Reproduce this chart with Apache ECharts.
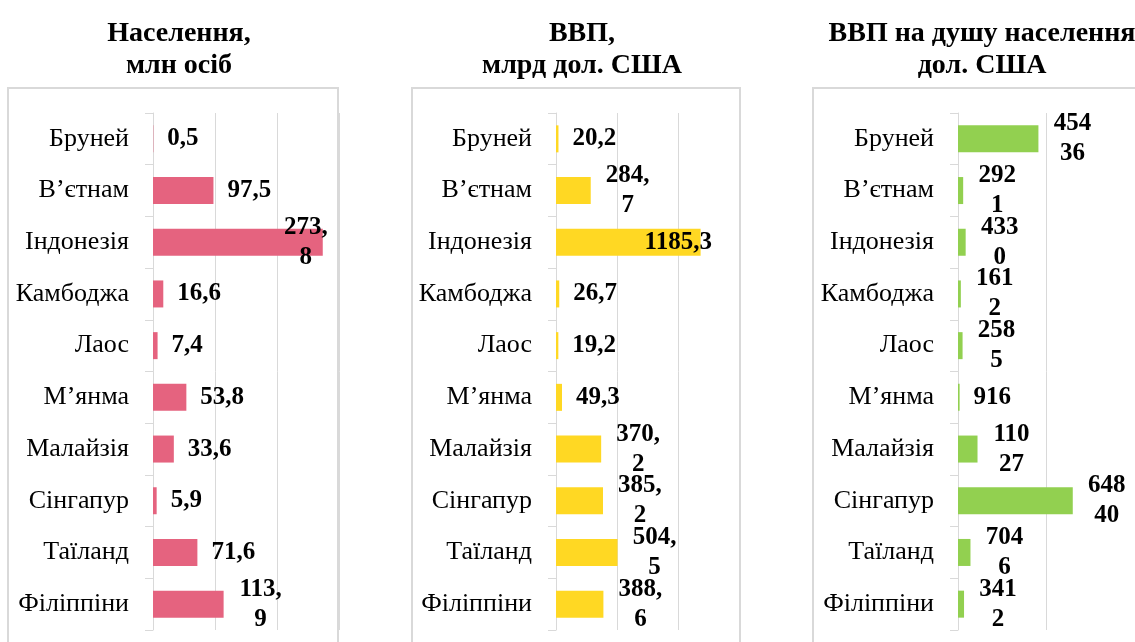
<!DOCTYPE html>
<html>
<head>
<meta charset="utf-8">
<script src="https://cdn.jsdelivr.net/npm/echarts@6/dist/echarts.min.js"></script>
<style>
  html, body { margin: 0; padding: 0; background: #fff; }
  #chart { width: 1135px; height: 642px; }
</style>
</head>
<body>
<div id="chart"></div>
<script>
// країни (зверху вниз)
const countries = ['Бруней', 'В’єтнам', 'Індонезія', 'Камбоджа', 'Лаос', 'М’янма', 'Малайзія', 'Сінгапур', 'Таїланд', 'Філіппіни']

// населення, млн осіб
const population = [0.5, 97.5, 273.8, 16.6, 7.4, 53.8, 33.6, 5.9, 71.6, 113.9]
// ВВП, млрд дол. США
const gdp = [20.2, 284.7, 1185.3, 26.7, 19.2, 49.3, 370.2, 385.2, 504.5, 388.6]
// ВВП на душу населення, дол. США
const gdpPerCapita = [45436, 2921, 4330, 1612, 2585, 916, 11027, 64840, 7046, 3412]

const titles = ['Населення,\nмлн осіб', 'ВВП,\nмлрд дол. США', 'ВВП на душу населення\nдол. США']

// шкали осей x
const popAxis = { max: 300, interval: 100 }
const gdpAxis = { max: 1500, interval: 500 }
const pcAxis = { max: 100000, interval: 50000 }

const serif = "'Liberation Serif', serif"
const gridColor = '#d9d9d9'

const chart = echarts.init(document.getElementById('chart'))

// підписи: кома як десятковий роздільник, перенос як в оригіналі
const fmtDec = (v) => v.toFixed(1).replace('.', ',')
const wrapAfterComma = (s) => {
  if (s.length <= 4) return s
  const i = s.indexOf(',') + 1
  return '{c|' + s.slice(0, i) + '}\n{c|' + s.slice(i) + '}'
}
const wrapAfter3 = (s) => (s.length <= 3 ? s : '{c|' + s.slice(0, 3) + '}\n{c|' + s.slice(3) + '}')

// окремі зсуви підписів, які в оригіналі заходять на стовпчик
const popShift = { 2: -54 }
const gdpShift = { 2: -70 }

const buildItems = (values, shifts) =>
  values.map((v, i) => (shifts[i] !== undefined ? { value: v, label: { offset: [shifts[i], 0] } } : v))

const grids = [
  { left: 153, width: 186, top: 113, bottom: 12 },
  { left: 556, width: 183, top: 113, bottom: 12 },
  { left: 958, width: 187, top: 113, bottom: 12 }
]

const makeX = (idx, ax) => ({
  type: 'value',
  gridIndex: idx,
  min: 0,
  max: ax.max,
  interval: ax.interval,
  axisLabel: { show: false },
  axisLine: { show: false },
  axisTick: { show: false },
  splitLine: { show: true, lineStyle: { color: gridColor, width: 1 } }
})

const makeY = (idx) => ({
  type: 'category',
  gridIndex: idx,
  data: countries,
  inverse: true,
  axisLine: { show: true, lineStyle: { color: gridColor, width: 1 } },
  axisTick: { show: true, length: 8, lineStyle: { color: gridColor } },
  axisLabel: { fontFamily: serif, fontSize: 26, color: '#000', margin: 24 }
})

const labelBase = {
  show: true,
  position: 'right',
  distance: 14,
  fontFamily: serif,
  fontWeight: 'bold',
  fontSize: 25,
  color: '#000',
  lineHeight: 30
}

const titleX = [174, 577, 977]

const option = {
  animation: false,
  backgroundColor: '#fff',
  title: titleX.map((x, i) => ({
    text: titles[i],
    left: x,
    top: 13,
    textAlign: 'center',
    textStyle: { fontFamily: serif, fontWeight: 'bold', fontSize: 28, lineHeight: 32, color: '#000' }
  })),
  graphic: [
    { type: 'rect', shape: { x: 8, y: 88, width: 330, height: 600 }, style: { fill: 'none', stroke: gridColor, lineWidth: 2 }, z: -1 },
    { type: 'rect', shape: { x: 412, y: 88, width: 328, height: 600 }, style: { fill: 'none', stroke: gridColor, lineWidth: 2 }, z: -1 },
    { type: 'rect', shape: { x: 813, y: 88, width: 400, height: 600 }, style: { fill: 'none', stroke: gridColor, lineWidth: 2 }, z: -1 }
  ],
  grid: grids,
  xAxis: [makeX(0, popAxis), makeX(1, gdpAxis), makeX(2, pcAxis)],
  yAxis: [makeY(0), makeY(1), makeY(2)],
  series: [
    {
      name: 'Населення',
      type: 'bar',
      xAxisIndex: 0,
      yAxisIndex: 0,
      data: buildItems(population, popShift),
      barWidth: 27,
      itemStyle: { color: '#E5637F' },
      label: {
        ...labelBase,
        formatter: (p) => wrapAfterComma(fmtDec(p.value)),
        rich: { c: { width: 46, align: 'center', lineHeight: 30 } }
      }
    },
    {
      name: 'ВВП',
      type: 'bar',
      xAxisIndex: 1,
      yAxisIndex: 1,
      data: buildItems(gdp, gdpShift),
      barWidth: 27,
      itemStyle: { color: '#FFD823' },
      label: {
        ...labelBase,
        formatter: (p) => (gdpShift[p.dataIndex] !== undefined ? fmtDec(p.value) : wrapAfterComma(fmtDec(p.value))),
        rich: { c: { width: 46, align: 'center', lineHeight: 30 } }
      }
    },
    {
      name: 'ВВП на душу населення',
      type: 'bar',
      xAxisIndex: 2,
      yAxisIndex: 2,
      data: gdpPerCapita,
      barWidth: 27,
      itemStyle: { color: '#92D050' },
      label: {
        ...labelBase,
        formatter: (p) => wrapAfter3(String(p.value)),
        rich: { c: { width: 40, align: 'center', lineHeight: 30 } }
      }
    }
  ]
}

chart.setOption(option)
</script>
</body>
</html>
